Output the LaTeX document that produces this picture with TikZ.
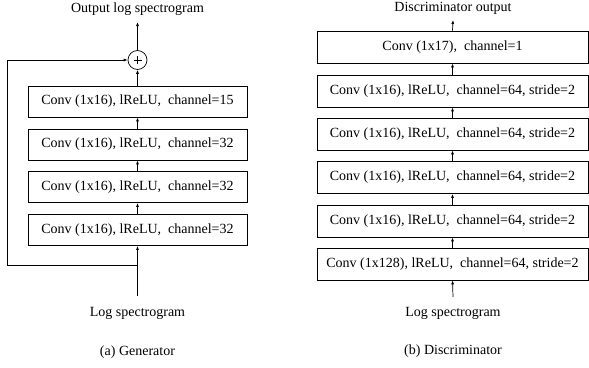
\documentclass[tikz,border=0pt]{standalone}
\usepackage{fontspec}
\setmainfont{Liberation Serif}
\usetikzlibrary{arrows.meta}
\begin{document}
\begin{tikzpicture}[x=1pt,y=-1pt,
  layer/.style={draw,line width=0.8pt,minimum height=31pt,inner sep=0pt,font=\fontsize{14}{16}\selectfont},
  genbox/.style={layer,minimum width=219pt},
  disbox/.style={layer,minimum width=271pt,minimum height=32pt},
  lbl/.style={font=\fontsize{14}{16}\selectfont,inner sep=0pt},
  flow/.style={line width=0.7pt,-{Latex[length=4pt,width=3pt]}},
  wire/.style={line width=0.7pt}]
\useasboundingbox (0,0) rectangle (589,367);

% ---- Generator ----
\node[lbl] (gout) at (137.5,9) {Output log spectrogram};
\node[draw,circle,line width=0.7pt,minimum size=19pt,inner sep=0pt] (sum) at (137.5,60) {};
\draw[line width=0.6pt] (sum.center) ++(-4,0) -- ++(8,0) (sum.center) ++(0,-4) -- ++(0,8);
\node[genbox] (g1) at (137.5,101.5) {Conv (1x16), lReLU,\ \ channel=15};
\node[genbox] (g2) at (137.5,144.5) {Conv (1x16), lReLU,\ \ channel=32};
\node[genbox] (g3) at (137.5,187) {Conv (1x16), lReLU,\ \ channel=32};
\node[genbox] (g4) at (137.5,230) {Conv (1x16), lReLU,\ \ channel=32};
\node[lbl] (gin) at (137.5,313) {Log spectrogram};
\node[lbl] (gcap) at (137.5,352) {(a) Generator};
\coordinate (gbot) at (137.5,296);
\coordinate (gsplit) at (137.5,265);
\coordinate (gleft) at (7.5,265);
\coordinate (gtop) at (7.5,60);
\draw[flow] (sum.north) -- (137.5,22);
\draw[flow] (g1.north) -- (sum.south);
\draw[flow] (g2.north) -- (g1.south);
\draw[flow] (g3.north) -- (g2.south);
\draw[flow] (g4.north) -- (g3.south);
\draw[flow] (gbot) -- (g4.south);
\draw[wire] (gsplit) -- (gleft) -- (gtop);
\draw[flow] (gtop) -- (sum.west);

% ---- Discriminator ----
\node[lbl] (dout) at (453,8) {Discriminator output};
\node[disbox] (d1) at (452.5,47) {Conv (1x17),\ \ channel=1};
\node[disbox] (d2) at (452.5,91) {Conv (1x16), lReLU,\ \ channel=64, stride=2};
\node[disbox] (d3) at (452.5,134) {Conv (1x16), lReLU,\ \ channel=64, stride=2};
\node[disbox] (d4) at (452.5,177.5) {Conv (1x16), lReLU,\ \ channel=64, stride=2};
\node[disbox] (d5) at (452.5,221) {Conv (1x16), lReLU,\ \ channel=64, stride=2};
\node[disbox] (d6) at (452.5,264) {Conv (1x128), lReLU,\ \ channel=64, stride=2};
\node[lbl] (din) at (453,313) {Log spectrogram};
\node[lbl] (dcap) at (453,351) {(b) Discriminator};
\coordinate (dbot) at (453,297);
\coordinate (dtop) at (453,20);
\draw[flow] (d1.north) -- (dtop);
\draw[flow] (d2.north) -- (d1.south);
\draw[flow] (d3.north) -- (d2.south);
\draw[flow] (d4.north) -- (d3.south);
\draw[flow] (d5.north) -- (d4.south);
\draw[flow] (d6.north) -- (d5.south);
\draw[flow] (dbot) -- (d6.south);
\end{tikzpicture}
\end{document}
